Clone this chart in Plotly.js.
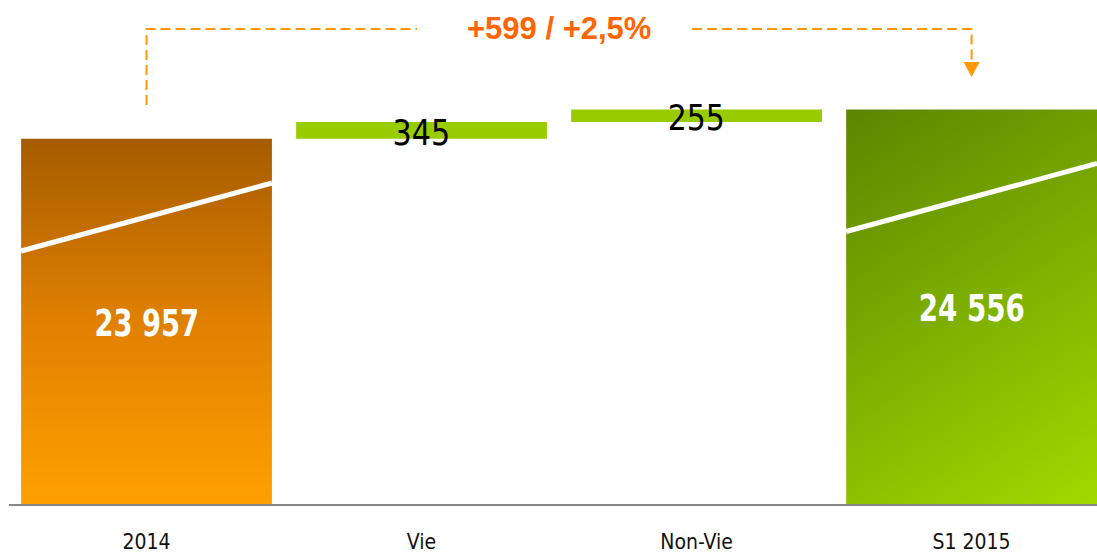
<!DOCTYPE html>
<html>
<head>
<meta charset="utf-8">
<script src="https://cdn.plot.ly/plotly-3.0.1.min.js"></script>
<style>
html,body{margin:0;padding:0;background:#fff;}
#chart{width:1097px;height:553px;}
</style>
</head>
<body>
<div id="chart"></div>
<script>
// ---- data ----
const categories = ['2014', 'Vie', 'Non-Vie', 'S1 2015'];
const measures   = ['absolute', 'relative', 'relative', 'total'];
const values     = [23957, 345, 255, 24556];

// ---- derived bases (waterfall logic) ----
const bases = [], heights = [];
let running = 0;
values.forEach((v, i) => {
  if (measures[i] === 'absolute') { bases.push(0); heights.push(v); running = v; }
  else if (measures[i] === 'relative') { bases.push(running); heights.push(v); running += v; }
  else { bases.push(0); heights.push(v); }
});

const yMin = 16469, yMax = 26801;
const barWidth = 0.912;
const fmt = n => String(n).replace(/\B(?=(\d{3})+(?!\d))/g, ' ');

const LABELFONT = '"DejaVu Sans", sans-serif';
const TICKFONT = '"DejaVu Sans Condensed", "DejaVu Sans", sans-serif';

const trace = {
  type: 'bar',
  x: categories,
  y: heights,
  base: bases,
  width: barWidth,
  marker: {color: ['#E08000', '#99CC00', '#99CC00', '#7EB000'], line: {width: 0}},
  hoverinfo: 'none'
};

// value labels
const annotations = values.map((v, i) => {
  const isTotal = measures[i] !== 'relative';
  return {
    x: i, xref: 'x',
    y: isTotal ? (yMin + values[i]) / 2 : bases[i] + heights[i] / 2,
    yref: 'y',
    yshift: -2,
    text: isTotal ? '<b>' + fmt(v) + '</b>' : fmt(v),
    showarrow: false,
    font: {family: LABELFONT, size: isTotal ? 37 : 36, color: isTotal ? '#FFFFFF' : '#000000'},
    xanchor: 'center', yanchor: 'middle'
  };
});
const condense = [0.74, 0.84, 0.83, 0.75];

const start = values[0], end = values[values.length - 1];
const diff = end - start;
const pct = (diff / start * 100).toFixed(1).replace('.', ',');
annotations.push({
  x: 1.5, xref: 'x', y: 0.9444, yref: 'paper',
  text: '<b>+' + diff + ' / +' + pct + '%</b>',
  showarrow: false,
  font: {family: '"Liberation Sans", Arial, sans-serif', size: 31, color: '#FF6600'},
  xanchor: 'center', yanchor: 'middle'
});

// decorative slashes (offset below bar top, in value units)
const slashOffsets = {0: [-2302, -907], 3: [-2501, -1107]};
const shapes = [];
Object.keys(slashOffsets).forEach(k => {
  const i = +k;
  shapes.push({
    type: 'line', xref: 'x', yref: 'y',
    x0: i - barWidth / 2, x1: i + barWidth / 2,
    y0: values[i] + slashOffsets[k][0], y1: values[i] + slashOffsets[k][1],
    line: {color: '#FFFFFF', width: 5}
  });
});

// dashed bracket
const dashLine = {color: '#FF9900', width: 2, dash: '10px,5px'};
shapes.push({type: 'path', xref: 'x', yref: 'paper',
  path: 'M 0,0.7917 L 0,0.9425 L 0.9836,0.9425', line: dashLine});
shapes.push({type: 'path', xref: 'x', yref: 'paper',
  path: 'M 1.9836,0.9425 L 3,0.9425 L 3,0.877', line: dashLine});
shapes.push({type: 'path', xref: 'x', yref: 'paper',
  path: 'M 2.971,0.877 L 3.029,0.877 L 3,0.8472 Z',
  fillcolor: '#FF9900', line: {width: 0}});

const layout = {
  width: 1097, height: 553,
  margin: {l: 9, r: 0, t: 0, b: 49},
  paper_bgcolor: '#FFFFFF', plot_bgcolor: '#FFFFFF',
  showlegend: false,
  bargap: 0.088,
  xaxis: {
    type: 'category',
    range: [-0.5, 3.456],
    showgrid: false, zeroline: false,
    showline: true, linecolor: '#888888', linewidth: 2,
    ticks: '', ticklabelstandoff: 18,
    tickfont: {family: TICKFONT, size: 21, color: '#111111'},
    fixedrange: true
  },
  yaxis: {
    range: [yMin, yMax],
    visible: false, showgrid: false, zeroline: false,
    fixedrange: true
  },
  annotations: annotations,
  shapes: shapes
};

const gd = document.getElementById('chart');
Plotly.newPlot(gd, [trace], layout, {staticPlot: true, displayModeBar: false}).then(() => {
  const ya = gd._fullLayout.yaxis;
  const NS = 'http://www.w3.org/2000/svg';
  const svg = gd.querySelector('.main-svg');
  let defs = svg.querySelector('defs');
  if (!defs) { defs = document.createElementNS(NS, 'defs'); svg.insertBefore(defs, svg.firstChild); }
  function addGrad(id, x1, y1, x2, y2, stops) {
    const g = document.createElementNS(NS, 'linearGradient');
    g.setAttribute('id', id);
    g.setAttribute('gradientUnits', 'userSpaceOnUse');
    g.setAttribute('x1', x1); g.setAttribute('y1', y1);
    g.setAttribute('x2', x2); g.setAttribute('y2', y2);
    stops.forEach(s => {
      const st = document.createElementNS(NS, 'stop');
      st.setAttribute('offset', s[0]);
      st.setAttribute('stop-color', s[1]);
      g.appendChild(st);
    });
    defs.appendChild(g);
  }
  const paths = gd.querySelectorAll('.barlayer .point path');
  const bottom = ya._length;
  if (paths[0]) {
    const b = paths[0].getBBox();
    addGrad('gOrange', 0, b.y, 0, bottom, [[0, '#A65C00'], [0.5, '#E08000'], [1, '#FFA000']]);
    paths[0].style.fill = 'url(#gOrange)';
  }
  if (paths[3]) {
    const b = paths[3].getBBox();
    addGrad('gGreen', b.x, b.y, b.x + b.width, bottom, [[0, '#5C8500'], [1, '#A0DA00']]);
    paths[3].style.fill = 'url(#gGreen)';
  }
  // horizontally condense the value labels
  gd.querySelectorAll('.annotation-text').forEach((t, i) => {
    if (i >= condense.length) return;
    const bb = t.getBBox();
    const cx = bb.x + bb.width / 2;
    const prev = t.getAttribute('transform') || '';
    t.setAttribute('transform', prev + ' translate(' + cx + ',0) scale(' + condense[i] + ',1) translate(' + (-cx) + ',0)');
  });
});
</script>
</body>
</html>
